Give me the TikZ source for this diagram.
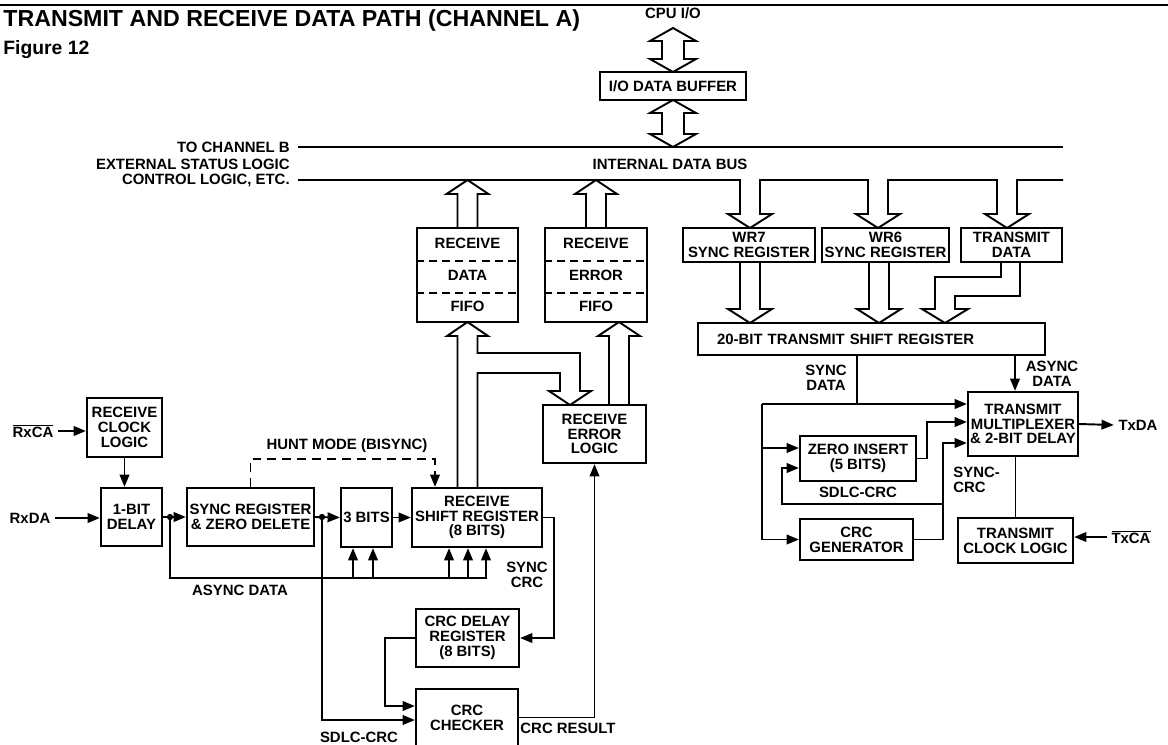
\documentclass[tikz,border=0pt]{standalone}
\usepackage{fontspec}
\setmainfont{Liberation Sans}
\usetikzlibrary{arrows.meta}

\newcommand{\busup}[3]{\draw[bus] (#1-10,#2) -- (#1-10,#3+14) -- (#1-21,#3+14) -- (#1,#3) -- (#1+21,#3+14) -- (#1+10,#3+14) -- (#1+10,#2);}
\newcommand{\busdown}[3]{\draw[bus] (#1-10,#2) -- (#1-10,#3-14) -- (#1-22,#3-14) -- (#1,#3) -- (#1+22,#3-14) -- (#1+10,#3-14) -- (#1+10,#2);}
\newcommand{\dbus}[3]{\draw[bus] (#1,#2) -- (#1+23,#2+13) -- (#1+11,#2+13) -- (#1+11,#3-13) -- (#1+23,#3-13) -- (#1,#3) -- (#1-23,#3-13) -- (#1-11,#3-13) -- (#1-11,#2+13) -- (#1-23,#2+13) -- cycle;}

\begin{document}
\begin{tikzpicture}[
    x=0.02cm, y=-0.02cm,
    every node/.style={font=\bfseries\fontsize{8.5}{8.4}\selectfont, inner sep=0pt, align=center},
    box/.style 2 args={draw, line width=1.3pt, minimum width=#1*0.02cm, minimum height=#2*0.02cm},
    sig/.style={inner xsep=2.5pt},
    arrow/.style={-{Triangle[length=7pt,width=5.5pt]}, line width=1.1pt},
    wire/.style={line width=1.1pt},
    bus/.style={line width=1.1pt, line join=miter},
    sep/.style={dash pattern=on 4.5pt off 3pt, line width=1.2pt},
    hunt/.style={arrow, dash pattern=on 5pt off 3.5pt},
    dot/.style={circle, fill, minimum size=3.6pt}
]
\useasboundingbox (0,0) rectangle (1168,744);
\draw[line width=1.4pt] (0,5) -- (1168,5);
\node[anchor=west, font=\bfseries\fontsize{13.2}{15}\selectfont] (title) at (3,21) {TRANSMIT AND RECEIVE DATA PATH (CHANNEL A)};
\node[anchor=west, font=\bfseries\fontsize{11}{12}\selectfont] (fig) at (3,50) {Figure 12};

\node (cpuio) at (673,13) {CPU I/O};
\node[box={146}{28}] (iobuf) at (673,86) {I/O DATA BUFFER};
\dbus{673}{28}{72}
\dbus{673}{100}{147}

\draw[bus] (298,147) -- (1063,147);
\draw[bus] (298,180) -- (740,180) -- (740,214) -- (728,214) -- (750,228) -- (772,214) -- (760,214) -- (760,180)
  -- (868,180) -- (868,214) -- (856,214) -- (878,228) -- (900,214) -- (888,214) -- (888,180)
  -- (997,180) -- (997,214) -- (985,214) -- (1007,228) -- (1029,214) -- (1017,214) -- (1017,180) -- (1063,180);
\node[anchor=east] (tochb) at (290,147) {TO CHANNEL B};
\node[anchor=east] (extst) at (290,164) {EXTERNAL STATUS LOGIC};
\node[anchor=east] (ctrl) at (290,180) {CONTROL LOGIC, ETC.};
\node (idb) at (670,164) {INTERNAL DATA BUS};

\node[box={101}{94}, font=\bfseries\fontsize{8.5}{18}\selectfont] (rdfifo) at (467.5,275) {RECEIVE\\DATA\\FIFO};
\node[box={102}{94}, font=\bfseries\fontsize{8.5}{18}\selectfont] (refifo) at (596,275) {RECEIVE\\ERROR\\FIFO};
\foreach \f in {rdfifo,refifo}
  \foreach \yy in {261,293}
    \draw[sep] (\f.west |- 0,\yy) -- (\f.east |- 0,\yy);
\node[box={103}{58}] (relogic) at (594.5,434) {RECEIVE\\ERROR\\LOGIC};
\busup{467.5}{228}{180}
\busup{596}{228}{180}
\busup{619}{405}{322}
\draw[bus] (457.5,488) -- (457.5,336) -- (447,336) -- (467.5,322) -- (488,336) -- (477.5,336) -- (477.5,353)
  -- (580,353) -- (580,391) -- (591,391) -- (570,405) -- (549,391) -- (560,391) -- (560,373) -- (477.5,373) -- (477.5,488);

\node[box={75}{59}] (rxclk) at (124.5,427.5) {RECEIVE\\CLOCK\\LOGIC};
\node[box={61}{58}] (dly1) at (131.5,517) {1-BIT\\DELAY};
\node[box={127}{58}] (syncreg) at (250.5,517) {SYNC REGISTER\\\& ZERO DELETE};
\node[box={51}{59}] (bits3) at (366.5,517.5) {3 BITS};
\node[box={130}{59}] (rxshift) at (477,517.5) {RECEIVE\\SHIFT REGISTER\\(8 BITS)};
\node[box={103}{58}] (crcdly) at (467.5,638) {CRC DELAY\\REGISTER\\(8 BITS)};
\node[box={102}{57}] (crcchk) at (467,717.5) {CRC\\CHECKER};
\node[sig] (rxca) at (33,431) {$\overline{\hbox{RxCA}}$};
\node[sig] (rxda) at (30,518) {RxDA};
\node[dot] (j1) at (170,517) {};
\node[dot] (j2) at (322,517) {};
\node (hunttxt) at (347,446) {HUNT MODE (BISYNC)};
\node (lasync) at (240,590) {ASYNC DATA};
\node (lsynccrc) at (527,575) {SYNC\\CRC};
\node (lcrcres) at (568,728) {CRC RESULT};
\node (lsdlc) at (359,737) {SDLC-CRC};

\draw[arrow] (rxca.east) -- (rxca.east -| rxclk.west);
\draw[arrow] (rxclk.south) -- (rxclk.south |- dly1.north);
\draw[arrow] (rxda.east) -- (rxda.east -| dly1.west);
\draw[arrow] (dly1.east) -- (syncreg.west);
\draw[arrow] (syncreg.east) -- (bits3.west);
\draw[arrow] (bits3.east) -- (rxshift.west);
\draw[hunt] (syncreg.north) |- (435,459) -- (435,0 |- rxshift.north);
\draw[arrow] (j1.center) |- (486,578) -- (486,0 |- rxshift.south);
\foreach \xx in {353,373}
  \draw[arrow] (\xx,578) -- (\xx,0 |- bits3.south);
\foreach \xx in {449,468}
  \draw[arrow] (\xx,578) -- (\xx,0 |- rxshift.south);
\draw[arrow] (j2.center) |- (crcchk.west |- 0,720);
\draw[arrow] (rxshift.east) -- ++(11,0) |- (crcdly.east);
\draw[arrow] (crcdly.west) -- ++(-30,0) |- (crcchk.west |- 0,706);
\draw[arrow] (crcchk.east) -| (relogic.south);

\node[box={132}{34}] (wr7) at (749,245) {WR7\\SYNC REGISTER};
\node[box={127}{34}] (wr6) at (885.5,245) {WR6\\SYNC REGISTER};
\node[box={101}{34}] (txdata) at (1011.5,245) {TRANSMIT\\DATA};
\node[box={347}{32}, text width=6.18cm, inner xsep=0.38cm, align=left] (txshift) at (871.5,339) {20-BIT TRANSMIT SHIFT REGISTER};
\busdown{750}{262}{323}
\busdown{879}{262}{323}
\draw[bus] (1001,262) -- (1001,277) -- (935,277) -- (935,309) -- (922,309) -- (945,323) -- (968,309) -- (955,309) -- (955,296) -- (1020,296) -- (1020,262);

\node[box={110}{64}] (txmux) at (1023,424) {TRANSMIT\\MULTIPLEXER\\\& 2-BIT DELAY};
\node[box={116}{45}] (zeroins) at (858,458.5) {ZERO INSERT\\(5 BITS)};
\node[box={113}{41}] (crcgen) at (856.5,539.5) {CRC\\GENERATOR};
\node[box={115}{45}] (txclk) at (1015.5,540.5) {TRANSMIT\\CLOCK LOGIC};
\node[sig] (txda) at (1138,425) {TxDA};
\node[sig] (txca) at (1131,537) {$\overline{\hbox{TxCA}}$};
\node (lsyncdata) at (826,378) {SYNC\\DATA};
\node (lasyncdata) at (1052,374) {ASYNC\\DATA};
\node (lsdlc2) at (858,492) {SDLC-CRC};
\node[anchor=west, align=left] (lsynccrc2) at (953,480) {SYNC-\\CRC};

\coordinate (sd) at (857,404);
\coordinate (tl) at (762,404);
\coordinate (cg) at (943,504);
\draw[wire] (sd) -- (sd |- txshift.south);
\draw[arrow] (tl) -- (tl -| txmux.west);
\draw[arrow] (tl) |- (crcgen.west);
\draw[arrow] (tl |- 0,448) -- (zeroins.west |- 0,448);
\draw[arrow] (zeroins.east) -- ++(10,0) |- (txmux.west |- 0,422);
\draw[arrow] (crcgen.east) -| (943,443) -- (txmux.west |- 0,443);
\draw[arrow] (cg) -| (782,468) -- (zeroins.west |- 0,468);
\draw[arrow] (1015,0 |- txshift.south) -- (1015,0 |- txmux.north);
\draw[arrow] (txmux.east) -- (txda.west);
\draw[wire] (txclk.north) -- (txclk.north |- txmux.south);
\draw[arrow] (txca.west) -- (txca.west -| txclk.east);
\end{tikzpicture}
\end{document}
